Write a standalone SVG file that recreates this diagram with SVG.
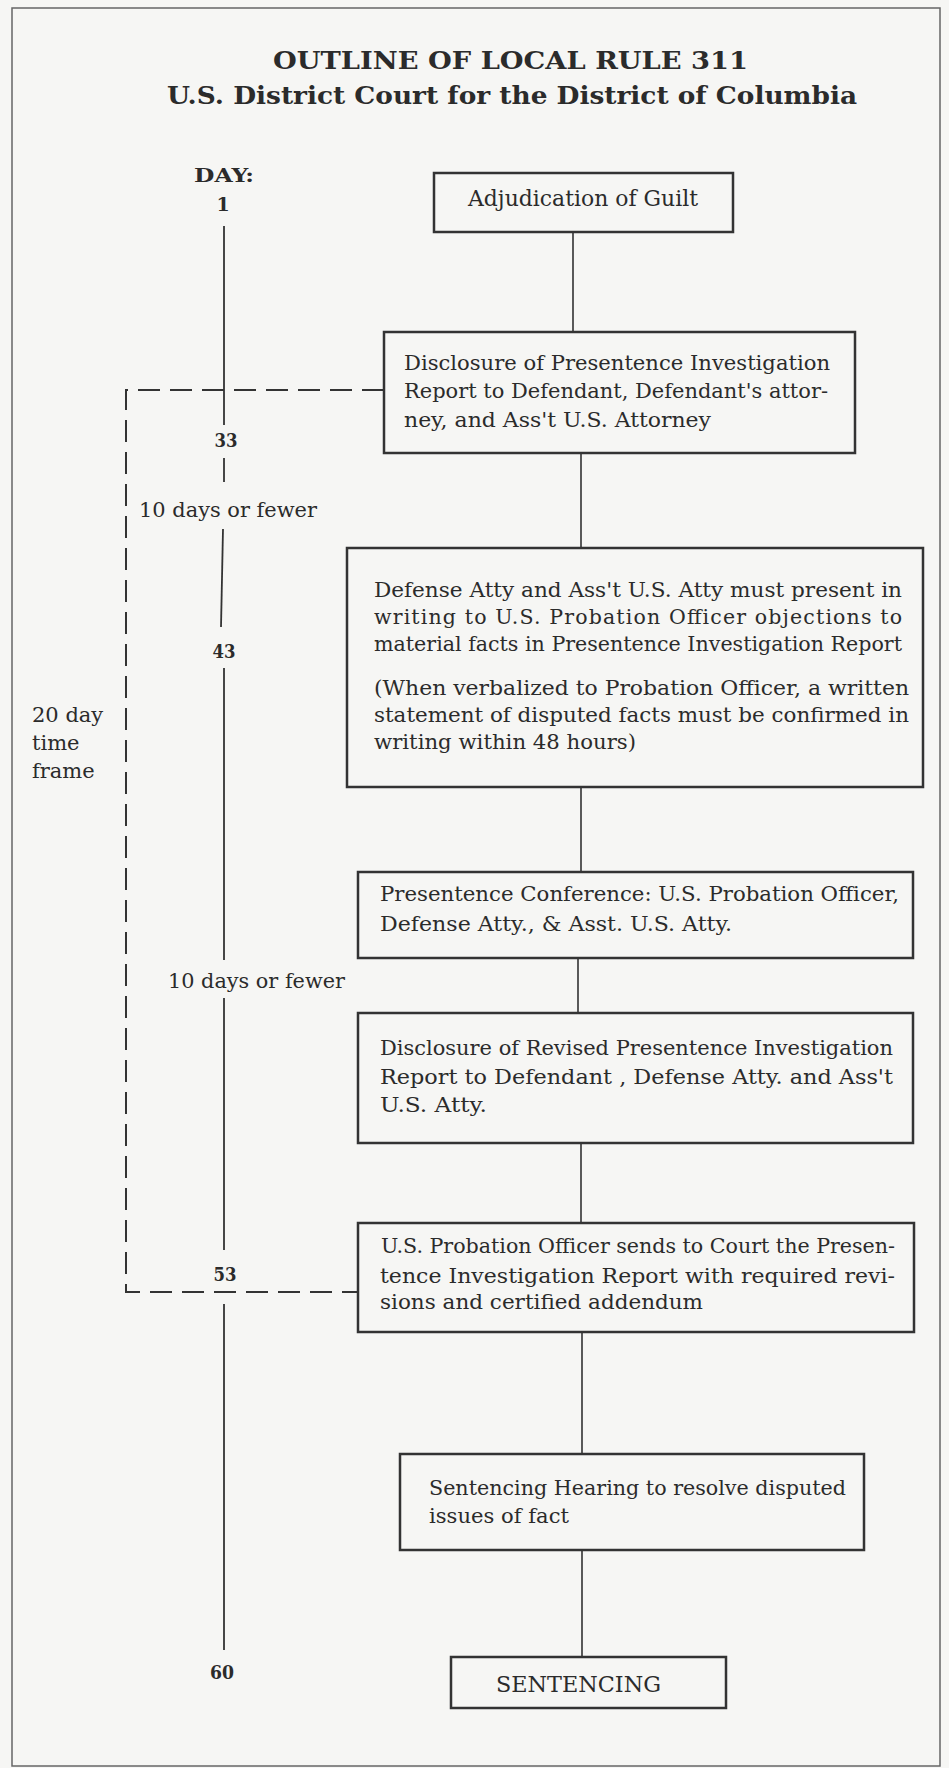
<svg xmlns="http://www.w3.org/2000/svg" width="949" height="1768" viewBox="0 0 949 1768">
<style>
.bg{fill:#f6f6f4}
.frame{fill:none;stroke:#666;stroke-width:1.5}
.box{fill:none;stroke:#333;stroke-width:2.5}
.conn{fill:none;stroke:#333;stroke-width:1.6}
.tl{fill:none;stroke:#333;stroke-width:1.8}
.dash{fill:none;stroke:#333;stroke-width:2;stroke-dasharray:22 10}
.t{font-family:"DejaVu Serif","Liberation Serif",serif;fill:#2b2b2b}
.title{font-size:24px;font-weight:bold}
.b1{font-size:22px}
.b2{font-size:21px}
.bx{font-size:20.5px}
.lbl{font-size:21px}
.num{font-size:19px;font-weight:bold}
</style>
<rect class="bg" x="0" y="0" width="949" height="1768"/>
<rect class="frame" x="12" y="8" width="928" height="1758"/>

<g id="title">
<text class="t title" x="273" y="69" textLength="475" lengthAdjust="spacingAndGlyphs">OUTLINE OF LOCAL RULE 311</text>
<text class="t title" x="167" y="104" textLength="690" lengthAdjust="spacingAndGlyphs">U.S. District Court for the District of Columbia</text>
</g>

<g id="connectors">
<line class="conn" x1="573" y1="232" x2="573" y2="332"/>
<line class="conn" x1="581" y1="453" x2="581" y2="548"/>
<line class="conn" x1="581" y1="787" x2="581" y2="872"/>
<line class="conn" x1="578" y1="958" x2="578" y2="1013"/>
<line class="conn" x1="581" y1="1143" x2="581" y2="1223"/>
<line class="conn" x1="582" y1="1332" x2="582" y2="1454"/>
<line class="conn" x1="582" y1="1550" x2="582" y2="1657"/>
<path class="dash" d="M384,390 H126 V1292 H358"/>
</g>

<g id="timeline">
<text class="t num" x="224" y="182" text-anchor="middle" textLength="60" lengthAdjust="spacingAndGlyphs">DAY:</text>
<text class="t num" x="223" y="211" text-anchor="middle">1</text>
<line class="tl" x1="224" y1="226" x2="224" y2="425"/>
<text class="t num" x="226" y="447" text-anchor="middle" textLength="23" lengthAdjust="spacingAndGlyphs">33</text>
<line class="tl" x1="224" y1="458" x2="224" y2="482"/>
<text class="t lbl" x="139" y="517" textLength="178" lengthAdjust="spacingAndGlyphs">10 days or fewer</text>
<line class="tl" x1="223" y1="529" x2="221" y2="627"/>
<text class="t num" x="224" y="658" text-anchor="middle" textLength="23" lengthAdjust="spacingAndGlyphs">43</text>
<line class="tl" x1="224" y1="668" x2="224" y2="960"/>
<text class="t lbl" x="168" y="988" textLength="177" lengthAdjust="spacingAndGlyphs">10 days or fewer</text>
<line class="tl" x1="224" y1="998" x2="224" y2="1250"/>
<text class="t num" x="225" y="1281" text-anchor="middle" textLength="23" lengthAdjust="spacingAndGlyphs">53</text>
<line class="tl" x1="224" y1="1304" x2="224" y2="1650"/>
<text class="t num" x="222" y="1679" text-anchor="middle" textLength="24" lengthAdjust="spacingAndGlyphs">60</text>
</g>

<g id="timeframe-label">
<text class="t lbl" x="32" y="722">20 day</text>
<text class="t lbl" x="32" y="750">time</text>
<text class="t lbl" x="32" y="778">frame</text>
</g>

<g id="n1">
<rect class="box" x="434" y="173" width="299" height="59"/>
<text class="t b1" x="468" y="206" textLength="230" lengthAdjust="spacingAndGlyphs">Adjudication of Guilt</text>
</g>

<g id="n2">
<rect class="box" x="384" y="332" width="471" height="121"/>
<text class="t b2" x="404" y="370" textLength="426" lengthAdjust="spacingAndGlyphs">Disclosure of Presentence Investigation</text>
<text class="t b2" x="404" y="398" textLength="424" lengthAdjust="spacingAndGlyphs">Report to Defendant, Defendant's attor-</text>
<text class="t b2" x="404" y="427" textLength="307" lengthAdjust="spacingAndGlyphs">ney, and Ass't U.S. Attorney</text>
</g>

<g id="n3">
<rect class="box" x="347" y="548" width="576" height="239"/>
<text class="t bx" x="374" y="597" textLength="528" lengthAdjust="spacingAndGlyphs">Defense Atty and Ass't U.S. Atty must present in</text>
<text class="t bx" x="374" y="624" textLength="528" lengthAdjust="spacing">writing to U.S. Probation Officer objections to</text>
<text class="t bx" x="374" y="651" textLength="528" lengthAdjust="spacingAndGlyphs">material facts in Presentence Investigation Report</text>
<text class="t bx" x="374" y="695" textLength="535" lengthAdjust="spacingAndGlyphs">(When verbalized to Probation Officer, a written</text>
<text class="t bx" x="374" y="722" textLength="535" lengthAdjust="spacingAndGlyphs">statement of disputed facts must be confirmed in</text>
<text class="t bx" x="374" y="749" textLength="262" lengthAdjust="spacingAndGlyphs">writing within 48 hours)</text>
</g>

<g id="n4">
<rect class="box" x="358" y="872" width="555" height="86"/>
<text class="t bx" x="380" y="901" textLength="519" lengthAdjust="spacingAndGlyphs">Presentence Conference:  U.S. Probation Officer,</text>
<text class="t bx" x="380" y="931" textLength="352" lengthAdjust="spacingAndGlyphs">Defense Atty., &amp; Asst. U.S. Atty.</text>
</g>

<g id="n5">
<rect class="box" x="358" y="1013" width="555" height="130"/>
<text class="t bx" x="380" y="1055" textLength="513" lengthAdjust="spacingAndGlyphs">Disclosure of Revised Presentence Investigation</text>
<text class="t bx" x="380" y="1084" textLength="513" lengthAdjust="spacingAndGlyphs">Report to Defendant , Defense Atty. and Ass't</text>
<text class="t bx" x="380" y="1112" textLength="107" lengthAdjust="spacingAndGlyphs">U.S. Atty.</text>
</g>

<g id="n6">
<rect class="box" x="358" y="1223" width="556" height="109"/>
<text class="t bx" x="381" y="1253" textLength="514" lengthAdjust="spacingAndGlyphs">U.S. Probation Officer sends to Court the Presen-</text>
<text class="t bx" x="380" y="1283" textLength="515" lengthAdjust="spacingAndGlyphs">tence Investigation Report with required revi-</text>
<text class="t bx" x="380" y="1309" textLength="323" lengthAdjust="spacingAndGlyphs">sions and certified addendum</text>
</g>

<g id="n7">
<rect class="box" x="400" y="1454" width="464" height="96"/>
<text class="t bx" x="429" y="1495" textLength="417" lengthAdjust="spacingAndGlyphs">Sentencing Hearing to resolve disputed</text>
<text class="t bx" x="429" y="1523" textLength="140" lengthAdjust="spacingAndGlyphs">issues of fact</text>
</g>

<g id="n8">
<rect class="box" x="451" y="1657" width="275" height="51"/>
<text class="t b1" x="496" y="1692" textLength="165" lengthAdjust="spacingAndGlyphs">SENTENCING</text>
</g>
</svg>
